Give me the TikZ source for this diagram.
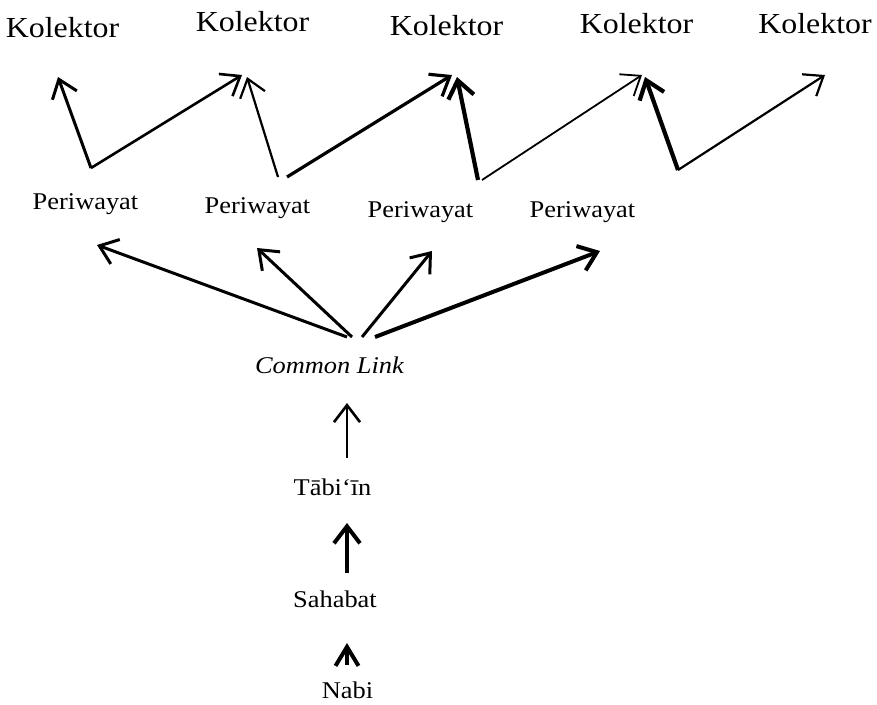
\documentclass[tikz,border=0pt]{standalone}
\usepackage{fontspec}
\setmainfont{Liberation Serif}[FakeStretch=1.1]
\usetikzlibrary{arrows.meta}
\tikzset{
  lbl/.style={font=\fontsize{24}{28}\selectfont, inner sep=0pt, anchor=base},
  kol/.style={font=\fontsize{29}{34}\selectfont, inner sep=0pt, anchor=base},
  arr/.style={-{Straight Barb[length=17pt,width=26pt]}, line width=2.6pt, line cap=butt},
}
\begin{document}
\begin{tikzpicture}[x=1pt,y=-1pt]
\useasboundingbox (0,0) rectangle (877,704);
% Kolektor nodes
\node[kol] (k1) at (62.5,37) {Kolektor};
\node[kol] (k2) at (252.5,31) {Kolektor};
\node[kol] (k3) at (446.5,35) {Kolektor};
\node[kol] (k4) at (636.5,33) {Kolektor};
\node[kol] (k5) at (815,33) {Kolektor};
% Periwayat nodes
\node[lbl] (p1) at (85.5,209) {Periwayat};
\node[lbl] (p2) at (257.5,213) {Periwayat};
\node[lbl] (p3) at (420.5,217) {Periwayat};
\node[lbl] (p4) at (582.5,217) {Periwayat};
% chain
\node[lbl] (cl) at (329.5,373) {\itshape Common Link};
\node[lbl] (tb) at (332.5,495) {Tābi‘īn};
\node[lbl] (sh) at (335,607) {Sahabat};
\node[lbl] (nb) at (347.5,698) {Nabi};
% coordinates: arrow ends
\coordinate (v1) at (91,168);
\coordinate (v2a) at (278,177);
\coordinate (v2b) at (287,177);
\coordinate (v3a) at (478,180);
\coordinate (v3b) at (482,180);
\coordinate (v4) at (678,170);
\coordinate (t1) at (58,77);
\coordinate (t2a) at (242,75);
\coordinate (t2b) at (247,77);
\coordinate (t3a) at (452,75);
\coordinate (t3b) at (457,77);
\coordinate (t4a) at (642,75);
\coordinate (t4b) at (645,77);
\coordinate (t5) at (825,75);
% Periwayat -> Kolektor
\draw[arr, line width=3pt] (v1) -- (t1);
\draw[arr, line width=2.6pt] (v1) -- (t2a);
\draw[arr, line width=2.2pt] (v2a) -- (t2b);
\draw[arr, line width=3.2pt] (v2b) -- (t3a);
\draw[arr, line width=4.2pt] (v3a) -- (t3b);
\draw[arr, line width=1.8pt] (v3b) -- (t4a);
\draw[arr, line width=4.2pt] (v4) -- (t4b);
\draw[arr, line width=2.2pt] (v4) -- (t5);
% Common Link -> Periwayat
\coordinate (c1) at (347,337);
\coordinate (c2) at (352,337);
\coordinate (c3) at (362,337);
\coordinate (c4) at (375,337);
\coordinate (u1) at (97,245);
\coordinate (u2) at (257,248);
\coordinate (u3) at (432,251);
\coordinate (u4) at (600,251);
\draw[arr, line width=3pt] (c1) -- (u1);
\draw[arr, line width=3pt] (c2) -- (u2);
\draw[arr, line width=3pt] (c3) -- (u3);
\draw[arr, line width=4pt] (c4) -- (u4);
% lower chain
\coordinate (a1s) at (347,458);
\coordinate (a1t) at (347,403);
\coordinate (a2s) at (347,573);
\coordinate (a2t) at (347,523);
\coordinate (a3s) at (347,665);
\coordinate (a3t) at (347,643);
\draw[arr, line width=2.6pt] (a1s) -- (a1t);
\draw[arr, line width=4pt] (a2s) -- (a2t);
\draw[arr, line width=4pt, -{Straight Barb[length=19pt,width=23pt]}] (a3s) -- (a3t);
\end{tikzpicture}
\end{document}
